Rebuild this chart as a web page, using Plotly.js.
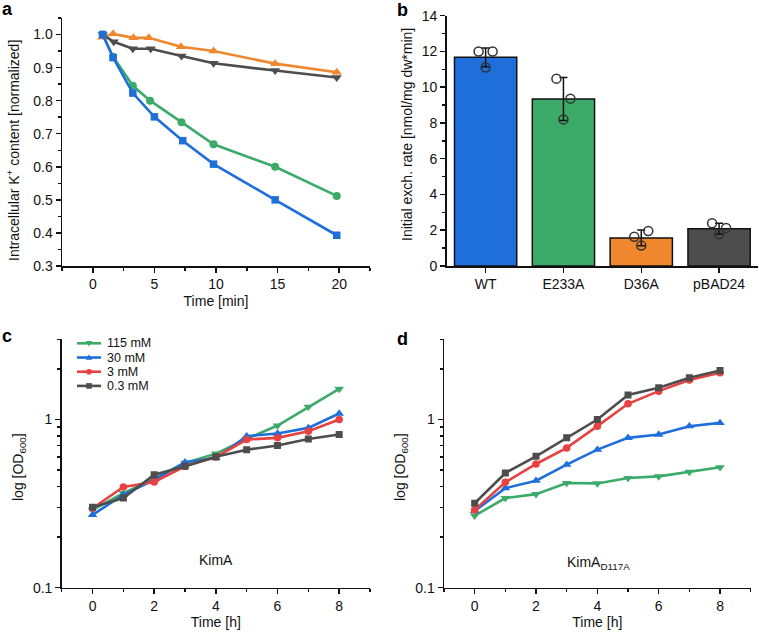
<!DOCTYPE html>
<html>
<head>
<meta charset="utf-8">
<script src="https://cdn.plot.ly/plotly-3.0.1.min.js"></script>
<style>html,body{margin:0;padding:0;background:#fff;}#chart{width:759px;height:634px;}</style>
</head>
<body>
<div id="chart"></div>
<script>
// ---- Panel a: intracellular K+ content over time ----
const aTimeWT   = [0.8, 1.65, 3.25, 5.0, 7.3, 9.8, 14.8, 19.8];
const aWT       = [1.0, 0.93, 0.823, 0.751, 0.679, 0.608, 0.500, 0.393];
const aTimeE    = [0.8, 1.65, 3.25, 4.65, 7.2, 9.8, 14.8, 19.8];
const aE233A    = [1.0, 0.933, 0.845, 0.800, 0.735, 0.668, 0.600, 0.512];
const aTimeD    = [0.75, 1.65, 3.3, 4.55, 7.15, 9.8, 14.8, 19.8];
const aD36A     = [0.992, 1.002, 0.990, 0.990, 0.963, 0.950, 0.912, 0.886];
const aTimeP    = [0.8, 1.7, 3.25, 4.7, 7.2, 9.8, 14.8, 19.8];
const aPBAD24   = [1.0, 0.978, 0.957, 0.957, 0.935, 0.913, 0.891, 0.870];

// ---- Panel b: initial exchange rate ----
const bCategories = ['WT', 'E233A', 'D36A', 'pBAD24'];
const bMeans      = [11.67, 9.34, 1.57, 2.09];
const bSD         = [0.53, 1.2, 0.44, 0.3];
const bReplicates = [
  [12.0, 12.0, 11.1],
  [10.48, 9.36, 8.2],
  [1.64, 1.96, 1.14],
  [2.39, 2.13, 1.77]
];

// ---- Panels c, d: growth curves ----
const hours = [0, 1, 2, 3, 4, 5, 6, 7, 8];
const concLabels = ['115 mM', '30 mM', '3 mM', '0.3 mM'];
const cKimA = [
  [0.290, 0.365, 0.445, 0.552, 0.627, 0.767, 0.921, 1.19, 1.52],   // 115 mM
  [0.271, 0.357, 0.438, 0.557, 0.590, 0.796, 0.826, 0.892, 1.086], // 30 mM
  [0.297, 0.397, 0.425, 0.527, 0.599, 0.760, 0.778, 0.852, 1.0],   // 3 mM
  [0.301, 0.341, 0.470, 0.527, 0.600, 0.662, 0.700, 0.767, 0.814]  // 0.3 mM
];
const dKimAD117A = [
  [0.268, 0.341, 0.360, 0.419, 0.417, 0.449, 0.459, 0.488, 0.520], // 115 mM
  [0.286, 0.391, 0.433, 0.539, 0.662, 0.778, 0.814, 0.913, 0.955], // 30 mM
  [0.290, 0.423, 0.544, 0.678, 0.913, 1.24, 1.475, 1.72, 1.90],    // 3 mM
  [0.318, 0.481, 0.604, 0.778, 1.0, 1.40, 1.545, 1.77, 1.96]       // 0.3 mM
];

// ---- styles ----
const BLUE = '#1e6edc', GREEN = '#3caa69', ORANGE = '#f0872d', GRAY = '#4d4d4d', RED = '#e84141';
const FONT = 'Liberation Sans, Arial, Helvetica, sans-serif';
const FS = 14;
const W = 759, H = 634;
const PX = (x) => x / W;
const PY = (y) => 1 - y / H;

const traces = [];
function line(x, y, color, symbol, size, xa, ya, name) {
  return {
    type: 'scatter', mode: 'lines+markers', x: x, y: y, xaxis: xa, yaxis: ya,
    name: name || '', showlegend: false,
    line: {color: color, width: 2.6},
    marker: {color: color, symbol: symbol, size: size}
  };
}
// panel a
traces.push(line(aTimeD, aD36A, ORANGE, 'triangle-up', 9, 'x', 'y'));
traces.push(line(aTimeP, aPBAD24, GRAY, 'triangle-down', 9, 'x', 'y'));
traces.push(line(aTimeE, aE233A, GREEN, 'circle', 8, 'x', 'y'));
traces.push(line(aTimeWT, aWT, BLUE, 'square', 7.5, 'x', 'y'));

// panel b
traces.push({
  type: 'bar', x: bCategories.map((c, i) => i), y: bMeans, xaxis: 'x2', yaxis: 'y2',
  width: 0.8, showlegend: false,
  marker: {color: [BLUE, GREEN, ORANGE, GRAY], line: {color: '#111', width: 1.5}},
  error_y: {type: 'data', array: bSD, visible: true, color: '#111', thickness: 1.5, width: 4}
});
const jitter = [-0.09, 0.09, 0];
const px = [], py = [];
bReplicates.forEach((vals, i) => vals.forEach((v, j) => { px.push(i + jitter[j]); py.push(v); }));
traces.push({
  type: 'scatter', mode: 'markers', x: px, y: py, xaxis: 'x2', yaxis: 'y2', showlegend: false,
  marker: {symbol: 'circle-open', size: 9, color: '#333', line: {width: 1.5, color: '#333'}}
});

// panel c & d
const concColors = [GREEN, BLUE, RED, GRAY];
const concSymbols = ['triangle-down', 'triangle-up', 'circle', 'square'];
const concSizes = [8.5, 8.5, 7.5, 7];
for (let k = 0; k < 4; k++) {
  traces.push(line(hours, cKimA[k], concColors[k], concSymbols[k], concSizes[k], 'x3', 'y3', concLabels[k]));
}
for (let k = 0; k < 4; k++) {
  traces.push(line(hours, dKimAD117A[k], concColors[k], concSymbols[k], concSizes[k], 'x4', 'y4', concLabels[k]));
}

// ---- compact legend for panel c (keys drawn as paper-space shapes) ----
const legShapes = [], legAnn = [];
const legTop = 343.3, legStep = 14.2, legX0 = 77, legX1 = 101, legMid = 89, s = 2.8;
concLabels.forEach((lab, k) => {
  const cy = legTop + k * legStep, col = concColors[k];
  legShapes.push({type: 'line', xref: 'paper', yref: 'paper', x0: PX(legX0), x1: PX(legX1), y0: PY(cy), y1: PY(cy),
    line: {color: col, width: 2.6}});
  const sym = concSymbols[k];
  if (sym === 'circle' || sym === 'square') {
    legShapes.push({type: sym === 'circle' ? 'circle' : 'rect', xref: 'paper', yref: 'paper',
      x0: PX(legMid - s), x1: PX(legMid + s), y0: PY(cy + s), y1: PY(cy - s),
      fillcolor: col, line: {color: col, width: 0}});
  } else {
    const d = sym === 'triangle-up' ? -1 : 1;
    const p = [[legMid - s - 0.5, cy - d * s * 0.8], [legMid + s + 0.5, cy - d * s * 0.8], [legMid, cy + d * s * 1.1]];
    legShapes.push({type: 'path', xref: 'paper', yref: 'paper',
      path: 'M' + p.map(q => PX(q[0]) + ',' + PY(q[1])).join(' L') + ' Z',
      fillcolor: col, line: {color: col, width: 0}});
  }
  legAnn.push({text: lab, xref: 'paper', yref: 'paper', x: PX(105), y: PY(cy), xanchor: 'left', yanchor: 'middle',
    showarrow: false, font: {family: FONT, size: 12.5, color: '#111'}});
});

const dx = (l, r) => [l / W, r / W];
const dy = (top, bottom) => [1 - bottom / H, 1 - top / H];

const axBase = {
  showline: true, linecolor: '#111', linewidth: 1.5, ticks: 'outside', ticklen: 5, tickwidth: 1.5,
  tickcolor: '#111', showgrid: false, zeroline: false, mirror: false,
  tickfont: {family: FONT, size: FS, color: '#111'},
  title: {font: {family: FONT, size: FS, color: '#111'}}
};
function ax(extra) { return Object.assign({}, JSON.parse(JSON.stringify(axBase)), extra, {
  title: Object.assign({}, axBase.title, extra.title || {})
}); }
const minorStyle = {ticks: 'outside', ticklen: 3, tickwidth: 1.5, tickcolor: '#111'};
const logMinor = [0.2, 0.3, 0.4, 0.5, 0.6, 0.7, 0.8, 0.9, 2, 3];

// y-axis titles as rotated annotations (precise placement)
function yTitle(text, xpx, ypx) {
  return {text: text, xref: 'paper', yref: 'paper', x: PX(xpx), y: PY(ypx), xanchor: 'center', yanchor: 'middle',
    textangle: -90, showarrow: false, font: {family: FONT, size: FS, color: '#111'}};
}

const layout = {
  width: W, height: H, margin: {l: 0, r: 0, t: 0, b: 0},
  paper_bgcolor: '#fff', plot_bgcolor: '#fff',
  font: {family: FONT, size: FS, color: '#111'},
  showlegend: false,
  xaxis: ax({domain: dx(62, 370), anchor: 'y', range: [-2.5, 22.5], tickvals: [0, 5, 10, 15, 20],
    minor: Object.assign({dtick: 2.5, tick0: 0}, minorStyle),
    title: {text: 'Time [min]', standoff: 5}}),
  yaxis: ax({domain: dy(18, 266), anchor: 'x', range: [0.3, 1.05], dtick: 0.1, tick0: 0.3, tickformat: '.1f',
    minor: Object.assign({dtick: 0.05, tick0: 0.3}, minorStyle)}),
  xaxis2: ax({domain: dx(446.7, 758), anchor: 'y2', range: [-0.5, 3.5], tickvals: [0, 1, 2, 3], ticktext: bCategories}),
  yaxis2: ax({domain: dy(15.7, 266), anchor: 'x2', range: [0, 14], dtick: 2, tick0: 0,
    minor: Object.assign({dtick: 1, tick0: 0}, minorStyle)}),
  xaxis3: ax({domain: dx(61.7, 370), anchor: 'y3', range: [-1, 9], tickvals: [0, 2, 4, 6, 8],
    minor: Object.assign({dtick: 1, tick0: 0}, minorStyle),
    title: {text: 'Time [h]', standoff: 4}}),
  yaxis3: ax({domain: dy(339.3, 587.7), anchor: 'x3', type: 'log', range: [-1, Math.log10(3)],
    tickvals: [0.1, 1], ticktext: ['0.1', '1'],
    minor: Object.assign({tickvals: logMinor}, minorStyle)}),
  xaxis4: ax({domain: dx(444, 750.7), anchor: 'y4', range: [-1, 9], tickvals: [0, 2, 4, 6, 8],
    minor: Object.assign({dtick: 1, tick0: 0}, minorStyle),
    title: {text: 'Time [h]', standoff: 4}}),
  yaxis4: ax({domain: dy(339.3, 587.7), anchor: 'x4', type: 'log', range: [-1, Math.log10(3)],
    tickvals: [0.1, 1], ticktext: ['0.1', '1'],
    minor: Object.assign({tickvals: logMinor}, minorStyle)}),
  shapes: legShapes,
  annotations: [
    yTitle('Intracellular K<sup>+</sup> content [normalized]', 13, 151),
    yTitle('Initial exch. rate [nmol/mg dw*min]', 407, 135),
    yTitle('log [OD<sub>600</sub>]', 19, 467),
    yTitle('log [OD<sub>600</sub>]', 401, 467),
    {text: '<b>a</b>', xref: 'paper', yref: 'paper', x: 0, y: PY(-3), xanchor: 'left', yanchor: 'top', showarrow: false, font: {family: FONT, size: 18, color: '#000'}},
    {text: '<b>b</b>', xref: 'paper', yref: 'paper', x: PX(395), y: PY(-2), xanchor: 'left', yanchor: 'top', showarrow: false, font: {family: FONT, size: 18, color: '#000'}},
    {text: '<b>c</b>', xref: 'paper', yref: 'paper', x: 0, y: PY(324), xanchor: 'left', yanchor: 'top', showarrow: false, font: {family: FONT, size: 18, color: '#000'}},
    {text: '<b>d</b>', xref: 'paper', yref: 'paper', x: PX(395), y: PY(327), xanchor: 'left', yanchor: 'top', showarrow: false, font: {family: FONT, size: 18, color: '#000'}},
    {text: 'KimA', xref: 'x3', yref: 'y3', x: 4, y: Math.log10(0.146), showarrow: false, font: {family: FONT, size: FS, color: '#111'}},
    {text: 'KimA<sub>D117A</sub>', xref: 'x4', yref: 'y4', x: 4.05, y: Math.log10(0.14), showarrow: false, font: {family: FONT, size: FS, color: '#111'}}
  ].concat(legAnn)
};

Plotly.newPlot('chart', traces, layout, {displayModeBar: false, staticPlot: true});
</script>
</body>
</html>
